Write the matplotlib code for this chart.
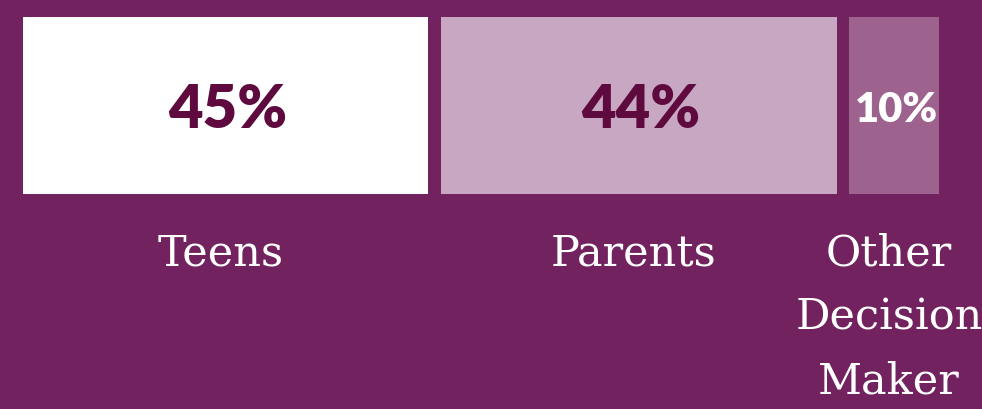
import matplotlib
matplotlib.use("Agg")
import matplotlib.pyplot as plt

# who makes the decision
categories = ["Teens", "Parents", "Other\nDecision\nMaker"]
values = [45, 44, 10]
value_labels = ["45%", "44%", "10%"]

bg = "#72225F"
bar_colors = ["#FFFFFF", "#C8A7C2", "#9D628E"]
text_colors = ["#5E0A3E", "#5E0A3E", "#FFFFFF"]
value_sizes = [43, 43, 30]

fig = plt.figure(figsize=(9.82, 4.09), dpi=100, facecolor=bg)
ax = fig.add_axes([0, 0, 1, 1])
ax.set_facecolor(bg)

# 1 unit = 9 px, axes in "percent" along x and pixels along y
px = 1 / 9
ax.set_xlim(-23 * px, (982 - 23) * px)
ax.set_ylim(409, 0)
ax.axis("off")

gap = 12.5 * px
left = 0
for cat, v, lab, c, tc, fs in zip(categories, values, value_labels,
                                  bar_colors, text_colors, value_sizes):
    ax.bar(left, 177, width=v, bottom=17, align="edge", color=c, linewidth=0)
    mid = left + v / 2
    ax.text(mid + 2 * px, 110, lab, ha="center", va="center", fontsize=fs,
            fontfamily="Lato", fontweight="heavy", color=tc)
    for i, line in enumerate(cat.split("\n")):
        ax.text(mid - 5 * px, 265 + i * 64, line, ha="center", va="baseline",
                fontsize=31, fontfamily="DejaVu Serif", color="white")
    left += v + gap

fig.savefig("out.png", dpi=100, facecolor=bg)
